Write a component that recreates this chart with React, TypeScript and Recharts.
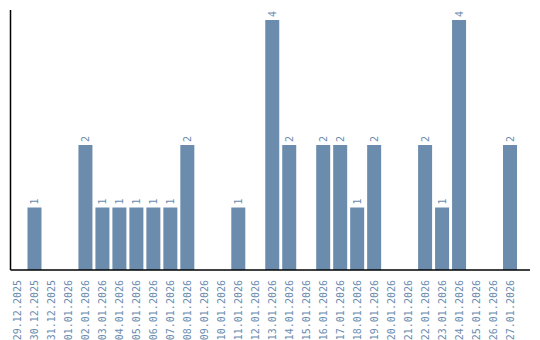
import { BarChart, Bar, XAxis, YAxis, LabelList } from "recharts";

const dates = [
  "29.12.2025", "30.12.2025", "31.12.2025", "01.01.2026", "02.01.2026",
  "03.01.2026", "04.01.2026", "05.01.2026", "06.01.2026", "07.01.2026",
  "08.01.2026", "09.01.2026", "10.01.2026", "11.01.2026", "12.01.2026",
  "13.01.2026", "14.01.2026", "15.01.2026", "16.01.2026", "17.01.2026",
  "18.01.2026", "19.01.2026", "20.01.2026", "21.01.2026", "22.01.2026",
  "23.01.2026", "24.01.2026", "25.01.2026", "26.01.2026", "27.01.2026",
];

const counts = [
  0, 1, 0, 0, 2, 1, 1, 1, 1, 1, 2, 0, 0, 1, 0,
  4, 2, 0, 2, 2, 1, 2, 0, 0, 2, 1, 4, 0, 0, 2,
];

const data = dates.map((date, i) => ({ date, count: counts[i] }));

const barColor = "#6b8cac";
const textColor = "#6a8cb0";
const font = "'DejaVu Sans Mono', monospace";

function DateTick(props: any) {
  const { x, y, payload } = props;
  return (
    <text
      x={x}
      y={y}
      transform={`rotate(-90 ${x} ${y})`}
      textAnchor="end"
      dominantBaseline="central"
      fill={textColor}
      fontSize={10}
      fontFamily={font}
    >
      {payload.value}
    </text>
  );
}

function ValueLabel(props: any) {
  const { x, y, width, value } = props;
  if (!value) return null;
  const cx = x + width / 2;
  const cy = y - 3;
  return (
    <text
      x={cx}
      y={cy}
      transform={`rotate(-90 ${cx} ${cy})`}
      textAnchor="start"
      dominantBaseline="central"
      fill={textColor}
      fontSize={10}
      fontFamily={font}
    >
      {value}
    </text>
  );
}

export default function App() {
  return (
    <div style={{ position: "absolute", left: 0, top: 0, background: "#fff" }}>
      <BarChart
        width={540}
        height={340}
        data={data}
        margin={{ top: 10, right: 10, bottom: 0, left: 0 }}
        barCategoryGap={1.5}
      >
        <XAxis
          dataKey="date"
          interval={0}
          tickLine={false}
          axisLine={{ stroke: "#000", strokeWidth: 1.5 }}
          tick={<DateTick />}
          tickMargin={4}
          height={70}
          padding={{ left: -1.5, right: 11.5 }}
        />
        <YAxis
          width={10.5}
          domain={[0, 4]}
          tick={false}
          tickLine={false}
          axisLine={{ stroke: "#000", strokeWidth: 1.5 }}
          padding={{ top: 10, bottom: 0 }}
        />
        <Bar dataKey="count" fill={barColor} isAnimationActive={false}>
          <LabelList dataKey="count" content={<ValueLabel />} />
        </Bar>
      </BarChart>
    </div>
  );
}
